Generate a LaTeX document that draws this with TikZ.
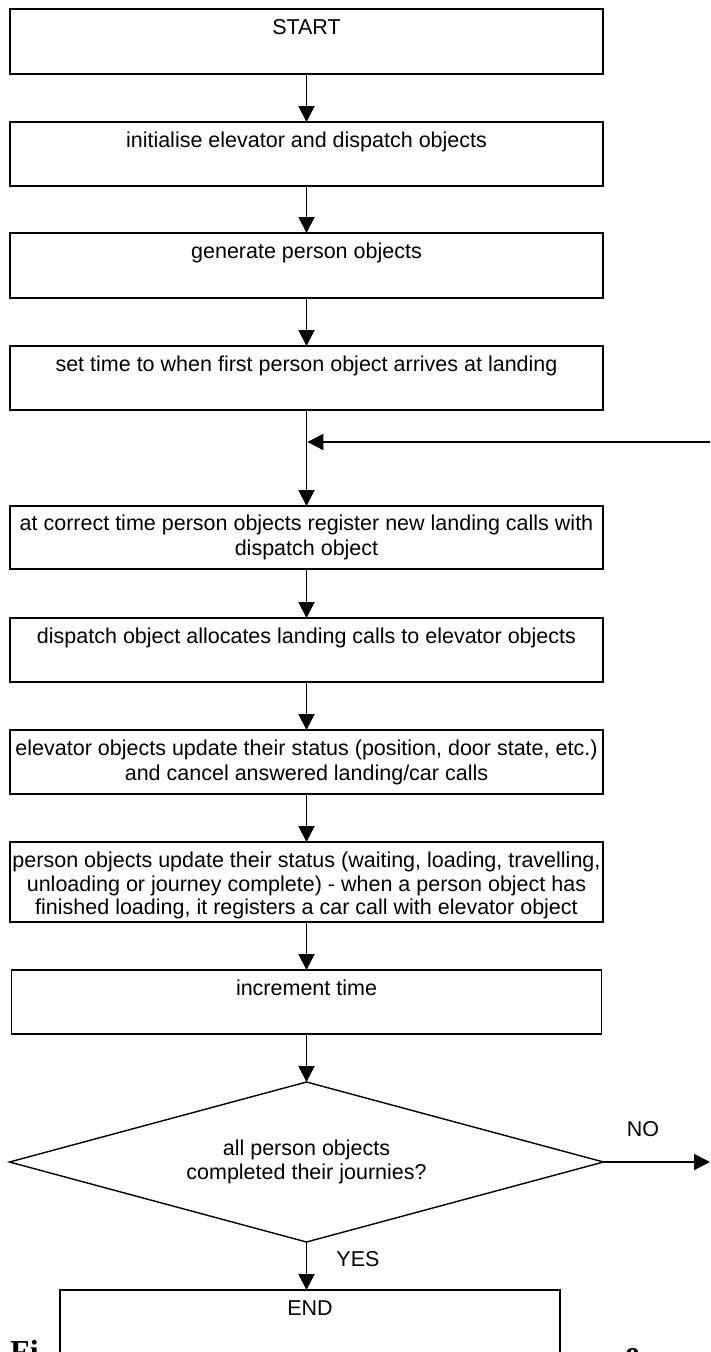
\documentclass[tikz,border=0pt]{standalone}
\usepackage{fontspec}
\setmainfont{Liberation Sans}
\newfontfamily\capfont{Liberation Serif}
\usetikzlibrary{arrows.meta,positioning,shapes.geometric}

\begin{document}
\begin{tikzpicture}[
  x=1pt, y=-1pt,
  font=\fontsize{21.5}{24.5}\selectfont,
  stepbox/.style={draw, line width=1.7pt, minimum width=593pt, minimum height=64pt, inner sep=0pt, outer sep=0pt},
  termbox/.style={stepbox, line width=2.2pt},
  steptext/.style={align=center, inner sep=0pt, anchor=north},
  test/.style={draw, diamond, aspect=3.71, line width=1.4pt, minimum width=594pt, minimum height=160pt, inner sep=0pt, outer sep=0pt, align=center},
  flow/.style={line width=1.9pt, -{Triangle[width=16pt,length=16pt]}},
  capfrag/.style={font=\capfont\bfseries\fontsize{32}{36}\selectfont, inner sep=0pt, anchor=north west}
]
\useasboundingbox (0,0) rectangle (710,1352);

% boxes of the main loop, top to bottom
\node[termbox, minimum height=65pt, anchor=north] (start) at (306.5,9) {};
\node[stepbox, below=48pt of start] (init) {};
\node[stepbox, minimum height=65pt, below=47pt of init] (genp) {};
\node[stepbox, below=48pt of genp] (settime) {};
\node[stepbox, minimum height=63pt, below=96pt of settime] (regcalls) {};
\node[stepbox, below=49pt of regcalls] (alloc) {};
\node[stepbox, below=48pt of alloc] (elevupd) {};
\node[stepbox, minimum height=80pt, below=48pt of elevupd] (persupd) {};
\node[stepbox, minimum width=590pt, below=48pt of persupd] (inctime) {};
\node[test, below=48pt of inctime] (done) {all person objects\\completed their journies?};
\node[termbox, minimum width=500pt, minimum height=80pt, anchor=north] (stop) at (310,1290) {};

% texts sit near the top edge of each box
\node[steptext, below=10pt of start.north] (start-t) {START};
\node[steptext, below=10pt of init.north] (init-t) {initialise elevator and dispatch objects};
\node[steptext, below=10pt of genp.north] (genp-t) {generate person objects};
\node[steptext, below=10pt of settime.north] (settime-t) {set time to when first person object arrives at landing};
\node[steptext, below=9pt of regcalls.north] (regcalls-t) {at correct time person objects register new landing calls with\\dispatch object};
\node[steptext, below=10pt of alloc.north] (alloc-t) {dispatch object allocates landing calls to elevator objects};
\node[steptext, below=10pt of elevupd.north] (elevupd-t) {elevator objects update their status (position, door state, etc.)\\and cancel answered landing/car calls};
\node[steptext, below=10pt of persupd.north, font=\fontsize{21.5}{23.5}\selectfont] (persupd-t) {person objects update their status (waiting, loading, travelling,\\unloading or journey complete) - when a person object has\\finished loading, it registers a car call with elevator object};
\node[steptext, below=10pt of inctime.north] (inctime-t) {increment time};
\node[steptext, below=10pt of stop.north] (stop-t) {END};

\draw[flow] (start) -- (init);
\draw[flow] (init) -- (genp);
\draw[flow] (genp) -- (settime);
\draw[flow] (settime) -- (regcalls);
\draw[flow] (regcalls) -- (alloc);
\draw[flow] (alloc) -- (elevupd);
\draw[flow] (elevupd) -- (persupd);
\draw[flow] (persupd) -- (inctime);
\draw[flow] (inctime) -- (done);
\draw[flow] (done.south) -- (done.south |- stop.north);

% loop back and the NO branch
\coordinate (loopin) at (710,442);
\coordinate (noout) at (710,1162);
\draw[flow, shorten >=0.9pt] (loopin) -- (loopin -| settime.south);
\draw[flow] (done.east) -- (noout);
\node (no-lbl) at (643,1129) {NO};
\node (yes-lbl) at (358,1259) {YES};

% caption letters below the END box
\node[capfrag] (cap-l) at (10,1340) {Fi};
\node[capfrag] (cap-r) at (625,1348.5) {e};
\end{tikzpicture}
\end{document}
